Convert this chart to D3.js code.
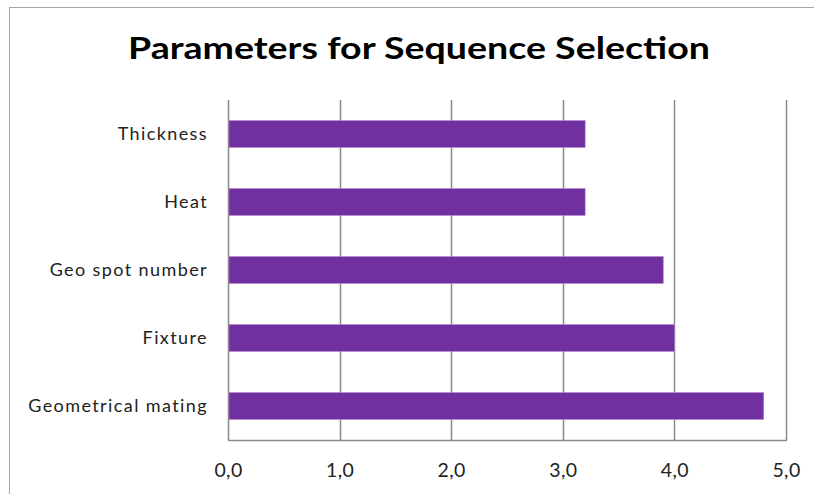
<!DOCTYPE html>
<html><head><meta charset="utf-8">
<script src="https://cdn.jsdelivr.net/npm/d3@7"></script>
<style>body{margin:0;background:#fff}svg{display:block}</style>
</head><body>
<script>
const categories = ["Thickness", "Heat", "Geo spot number", "Fixture", "Geometrical mating"];
const values = [3.2, 3.2, 3.9, 4.0, 4.8];
const tickValues = [0, 1, 2, 3, 4, 5];
const tickLabels = ["0,0", "1,0", "2,0", "3,0", "4,0", "5,0"];
const title = "Parameters for Sequence Selection";

const W = 814, H = 494;
const svg = d3.select("body").append("svg").attr("width", W).attr("height", H);
svg.append("rect").attr("x", 0).attr("y", 0).attr("width", W).attr("height", H).attr("fill", "#fff");
// outer chart border
svg.append("rect").attr("x", 9.5).attr("y", 7.5).attr("width", W + 10).attr("height", H + 10)
  .attr("fill", "none").attr("stroke", "#a6a6a6").attr("stroke-width", 1);

const m = {left: 228, right: 786, top: 100, bottom: 440};
const x = d3.scaleLinear().domain([0, 5]).range([m.left, m.right]);
const y = d3.scaleBand().domain(categories).range([m.top, m.bottom]).paddingInner(0.607).paddingOuter(0.3035);

svg.append("text").attr("x", 419).attr("y", 59).attr("text-anchor", "middle")
  .attr("font-family", "Lato, 'Open Sans', sans-serif").attr("font-weight", "bold")
  .attr("font-size", 30).attr("textLength", 582).attr("lengthAdjust", "spacingAndGlyphs")
  .attr("fill", "#000").text(title);

// gridlines
svg.append("g").selectAll("line").data(tickValues).join("line")
  .attr("x1", d => Math.round(x(d)) + 0.5).attr("x2", d => Math.round(x(d)) + 0.5)
  .attr("y1", m.top).attr("y2", m.bottom)
  .attr("stroke", "#8a8a8a").attr("stroke-width", 1.5);
svg.append("line").attr("x1", m.left).attr("x2", m.right + 1).attr("y1", m.bottom + 0.5).attr("y2", m.bottom + 0.5)
  .attr("stroke", "#8a8a8a").attr("stroke-width", 1.5);

// bars
svg.append("g").selectAll("rect").data(categories).join("rect")
  .attr("x", x(0) + 1).attr("y", d => y(d))
  .attr("width", (d, i) => x(values[i]) - x(0) - 1).attr("height", y.bandwidth())
  .attr("fill", "#7030a0").attr("stroke", "#a77cc7").attr("stroke-width", 0.6);

// x axis labels
const xAxis = d3.axisBottom(x).tickValues(tickValues).tickSize(0).tickPadding(0)
  .tickFormat((d, i) => tickLabels[i]);
const gx = svg.append("g").attr("transform", `translate(0,${m.bottom})`).call(xAxis);
gx.select(".domain").remove();
gx.selectAll("text").attr("dy", 0).attr("y", 37)
  .attr("font-family", "Lato, sans-serif").attr("font-size", 19.5).attr("letter-spacing", 0.4).attr("fill", "#222");

// y axis labels
const yAxis = d3.axisLeft(y).tickSize(0).tickPadding(20);
const gy = svg.append("g").attr("transform", `translate(${m.left},0)`).call(yAxis);
gy.select(".domain").remove();
gy.selectAll("text").attr("dy", "0.35em").attr("font-family", "Lato, sans-serif").attr("font-size", 18)
  .attr("letter-spacing", 1.4).attr("fill", "#222");
</script>
</body></html>
